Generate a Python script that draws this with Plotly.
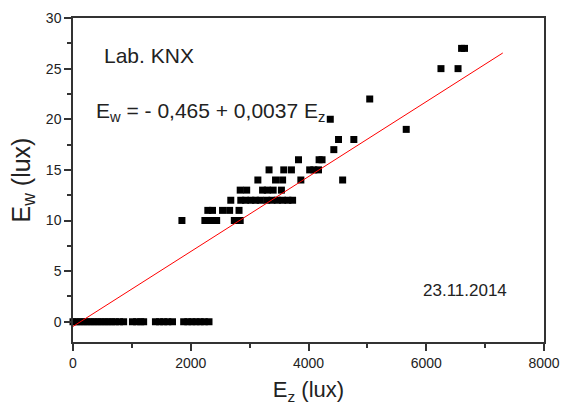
import plotly.graph_objects as go

# --- data ---
x_y0 = [0, 60, 120, 180, 240, 300, 360, 420, 480, 540, 600, 660, 720, 790, 860,
        1010, 1080, 1150, 1200,
        1400, 1470, 1540, 1610, 1690,
        1880, 1950, 2020, 2090, 2160, 2230, 2310]
x_y10 = [1850, 2240, 2300, 2370, 2440, 2740, 2840]
x_y11 = [2290, 2370, 2540, 2660, 2820]
x_y12 = [2680, 2850, 2930, 3020, 3100, 3180, 3290, 3380, 3470, 3560, 3650, 3730]
x_y13 = [2840, 2950, 3220, 3300, 3400, 3540]
x_y14 = [3140, 3440, 3560, 3870, 4580]
x_y15 = [3330, 3580, 3710, 4020, 4090, 4170]
x_y16 = [3830, 4180, 4230]
x_y17 = [4430]
x_y18 = [4510, 4770]
x_y19 = [5660]
x_y20 = [4370]
x_y22 = [5040]
x_y25 = [6250, 6540]
x_y27 = [6600, 6650]

groups = [(0, x_y0), (10, x_y10), (11, x_y11), (12, x_y12), (13, x_y13), (14, x_y14),
          (15, x_y15), (16, x_y16), (17, x_y17), (18, x_y18), (19, x_y19), (20, x_y20),
          (22, x_y22), (25, x_y25), (27, x_y27)]

ez = []
ew = []
for yv, xs in groups:
    for xv in xs:
        ez.append(xv)
        ew.append(yv)

# regression coefficients (from the equation shown)
intercept = -0.465
slope = 0.0037
fit_x = [0, 7300]
fit_y = [intercept + slope * v for v in fit_x]

x_ticks = [0, 2000, 4000, 6000, 8000]
y_ticks = [0, 5, 10, 15, 20, 25, 30]

FONT = "Arial, Liberation Sans, sans-serif"

fig = go.Figure()
fig.add_trace(go.Scatter(x=ez, y=ew, mode="markers",
                         marker=dict(symbol="square", size=7, color="black",
                                     line=dict(width=0)),
                         showlegend=False, cliponaxis=False))
fig.add_trace(go.Scatter(x=fit_x, y=fit_y, mode="lines",
                         line=dict(color="red", width=1),
                         showlegend=False))

axis_common = dict(showline=True, linecolor="#333", linewidth=1.5, mirror=True,
                   ticks="outside", ticklen=7, tickwidth=1.5, tickcolor="#333",
                   showgrid=False, zeroline=False, automargin=False,
                   tickfont=dict(family=FONT, size=14, color="#222"))

fig.update_xaxes(range=[0, 8000], tickvals=x_ticks,
                 minor=dict(dtick=1000, ticks="outside", ticklen=4, tickwidth=1.5, tickcolor="#333"),
                 title=dict(text="E<sub>z</sub> (lux)", font=dict(family=FONT, size=22, color="#222"),
                            standoff=14),
                 **axis_common)
fig.update_yaxes(range=[-2, 30], tickvals=y_ticks,
                 minor=dict(dtick=2.5, ticks="outside", ticklen=4, tickwidth=1.5, tickcolor="#333"),
                 title=dict(text="E<sub>w</sub> (lux)", font=dict(family=FONT, size=25, color="#222"),
                            standoff=8),
                 **axis_common)

fig.add_annotation(x=500, y=26.3, xref="x", yref="y", text="Lab. KNX", showarrow=False,
                   xanchor="left", yanchor="middle", font=dict(family=FONT, size=21, color="#222"))
fig.add_annotation(x=360, y=20.7, xref="x", yref="y",
                   text="E<sub>w</sub> = - 0,465 + 0,0037 E<sub>z</sub>", showarrow=False,
                   xanchor="left", yanchor="middle", font=dict(family=FONT, size=21, color="#222"))
fig.add_annotation(x=5910, y=3.1, xref="x", yref="y", text="23.11.2014", showarrow=False,
                   xanchor="left", yanchor="middle", font=dict(family=FONT, size=17, color="#222"))

fig.update_layout(width=562, height=405, margin=dict(l=73, r=18, t=18, b=63),
                  paper_bgcolor="white", plot_bgcolor="white")

fig.write_html("out.html")
